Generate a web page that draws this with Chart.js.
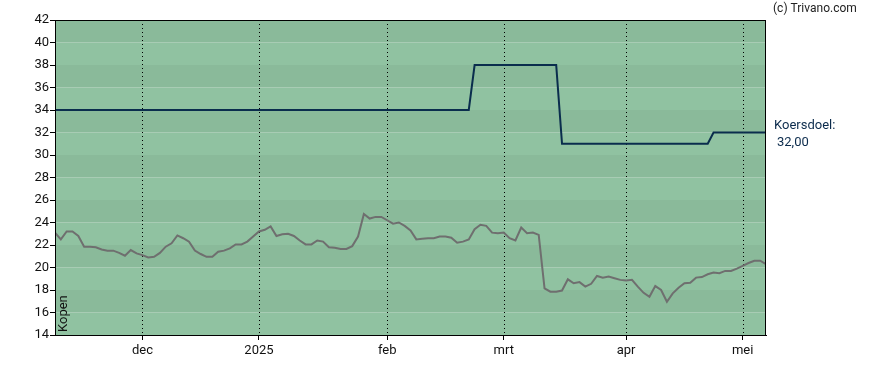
<!DOCTYPE html>
<html>
<head>
<meta charset="utf-8">
<script src="https://cdn.jsdelivr.net/npm/chart.js@4/dist/chart.umd.min.js"></script>
<style>
  html, body { margin: 0; padding: 0; background: #fff; }
  #wrap { width: 888px; height: 370px; position: relative; }
</style>
</head>
<body>
<div id="wrap"><canvas id="c" width="888" height="370"></canvas></div>
<script>
// Trading-day series (Nov 11, 2024 .. May 8, 2025), one value per trading day
const prices = [
  23.1, 22.5, 23.2, 23.2, 22.8, 21.85, 21.85, 21.8, 21.6, 21.5,
  21.5, 21.3, 21.05, 21.55, 21.25, 21.1, 20.9, 20.95, 21.3, 21.85,
  22.15, 22.85, 22.6, 22.3, 21.5, 21.2, 20.95, 20.95, 21.4, 21.5,
  21.7, 22.05, 22.05, 22.3, 22.75, 23.2, 23.35, 23.65, 22.8, 22.95,
  23.0, 22.8, 22.4, 22.05, 22.05, 22.4, 22.3, 21.8, 21.75, 21.65,
  21.65, 21.9, 22.75, 24.75, 24.35, 24.5, 24.5, 24.2, 23.9, 24.0,
  23.7, 23.3, 22.5, 22.55, 22.6, 22.6, 22.75, 22.75, 22.65, 22.2,
  22.3, 22.5, 23.4, 23.8, 23.7, 23.1, 23.05, 23.1, 22.6, 22.4,
  23.55, 23.05, 23.1, 22.9, 18.15, 17.85, 17.85, 17.95, 18.95, 18.6,
  18.7, 18.3, 18.55, 19.25, 19.1, 19.2, 19.05, 18.9, 18.85, 18.9,
  18.3, 17.75, 17.4, 18.35, 18.0, 16.95, 17.7, 18.2, 18.6, 18.65,
  19.1, 19.15, 19.4, 19.55, 19.5, 19.7, 19.7, 19.9, 20.15, 20.4,
  20.6, 20.6, 20.3
];
const targets = [
  34, 34, 34, 34, 34, 34, 34, 34, 34, 34,
  34, 34, 34, 34, 34, 34, 34, 34, 34, 34,
  34, 34, 34, 34, 34, 34, 34, 34, 34, 34,
  34, 34, 34, 34, 34, 34, 34, 34, 34, 34,
  34, 34, 34, 34, 34, 34, 34, 34, 34, 34,
  34, 34, 34, 34, 34, 34, 34, 34, 34, 34,
  34, 34, 34, 34, 34, 34, 34, 34, 34, 34,
  34, 34, 38, 38, 38, 38, 38, 38, 38, 38,
  38, 38, 38, 38, 38, 38, 38, 31, 31, 31,
  31, 31, 31, 31, 31, 31, 31, 31, 31, 31,
  31, 31, 31, 31, 31, 31, 31, 31, 31, 31,
  31, 31, 31, 32, 32, 32, 32, 32, 32, 32,
  32, 32, 32
];
// Month ticks: index of first trading day of each month and its label
const monthTickIndex = [15, 35, 57, 77, 98, 118];
const monthTickLabels = ['dec', '2025', 'feb', 'mrt', 'apr', 'mei'];
const yTicks = [14, 16, 18, 20, 22, 24, 26, 28, 30, 32, 34, 36, 38, 40, 42];
const targetLabel = 'Koersdoel:';
const adviceLabel = 'Kopen';
const copyright = '(c) Trivano.com';

const FONT = 'Roboto, "Liberation Sans", Arial, sans-serif';
const DARK = '#8aba9a';
const LIGHT = '#90c2a1';

const bgPlugin = {
  id: 'bg',
  beforeDraw(chart) {
    const { ctx, chartArea: a, scales: { x, y } } = chart;
    ctx.save();
    for (let i = 0; i < yTicks.length - 1; i++) {
      const y0 = y.getPixelForValue(yTicks[i]);
      const y1 = y.getPixelForValue(yTicks[i + 1]);
      ctx.fillStyle = (i % 2 === 1) ? DARK : LIGHT;
      ctx.fillRect(a.left, y1, a.right - a.left, y0 - y1);
    }
    // dotted month lines
    ctx.strokeStyle = '#000';
    ctx.lineWidth = 1;
    ctx.setLineDash([1, 3]);
    monthTickIndex.forEach(v => {
      const px = Math.round(x.getPixelForValue(v)) + 0.5;
      ctx.beginPath();
      ctx.moveTo(px, a.top);
      ctx.lineTo(px, a.bottom);
      ctx.stroke();
    });
    ctx.restore();
  },
  afterDraw(chart) {
    const { ctx, chartArea: a, scales: { y } } = chart;
    ctx.save();
    ctx.strokeStyle = '#000';
    ctx.lineWidth = 1;
    ctx.strokeRect(Math.round(a.left) + 0.5, Math.round(a.top) + 0.5,
                   Math.round(a.right - a.left) - 1, Math.round(a.bottom - a.top));
    // Kopen rotated label
    ctx.fillStyle = '#111';
    ctx.font = '13px ' + FONT;
    ctx.translate(a.left + 9, a.bottom - 3);
    ctx.rotate(-Math.PI / 2);
    ctx.textAlign = 'left';
    ctx.textBaseline = 'middle';
    ctx.fillText(adviceLabel, 0, 0);
    ctx.restore();

    ctx.save();
    const last = targets[targets.length - 1];
    const ty = y.getPixelForValue(last);
    ctx.fillStyle = '#0b2b4c';
    ctx.font = '13px ' + FONT;
    ctx.textAlign = 'left';
    ctx.textBaseline = 'middle';
    ctx.fillText(targetLabel, a.right + 8, ty - 7);
    ctx.fillText(last.toFixed(2).replace('.', ','), a.right + 11, ty + 10);
    ctx.fillStyle = '#222';
    ctx.font = '12px ' + FONT;
    ctx.fillText(copyright, a.right + 7, 9);
    ctx.restore();
  }
};

const toXY = arr => arr.map((v, i) => ({ x: i, y: v }));

new Chart(document.getElementById('c'), {
  type: 'line',
  data: {
    datasets: [
      {
        label: 'Koersdoel',
        data: toXY(targets),
        borderColor: '#0a2d4d',
        borderWidth: 2,
        pointRadius: 0,
        tension: 0,
        fill: false
      },
      {
        label: 'Koers',
        data: toXY(prices),
        borderColor: '#6f6f6f',
        borderWidth: 2,
        pointRadius: 0,
        tension: 0,
        fill: false
      }
    ]
  },
  options: {
    responsive: false,
    animation: false,
    layout: { padding: { top: 20, right: 122, bottom: 0, left: 0 } },
    plugins: { legend: { display: false }, tooltip: { enabled: false } },
    scales: {
      x: {
        type: 'linear',
        min: 0,
        max: prices.length - 1,
        afterBuildTicks(scale) { scale.ticks = monthTickIndex.map(v => ({ value: v })); },
        afterFit(scale) { scale.height = 35; },
        ticks: {
          autoSkip: false,
          maxRotation: 0,
          padding: 3,
          color: '#111',
          font: { size: 13, family: FONT },
          callback(v) { const k = monthTickIndex.indexOf(v); return k >= 0 ? monthTickLabels[k] : ''; }
        },
        grid: { drawOnChartArea: false, drawTicks: true, tickLength: 5, color: '#000' },
        border: { display: true, color: '#000', width: 1 }
      },
      y: {
        min: 14,
        max: 42,
        afterBuildTicks(scale) { scale.ticks = yTicks.map(v => ({ value: v })); },
        afterFit(scale) { scale.width = 55; },
        ticks: {
          padding: 1,
          color: '#111',
          font: { size: 13, family: FONT },
          callback(v) { return String(v); }
        },
        grid: { drawOnChartArea: false, drawTicks: true, tickLength: 5, color: '#000' },
        border: { display: true, color: '#000', width: 1 }
      }
    }
  },
  plugins: [bgPlugin]
});
</script>
</body>
</html>
